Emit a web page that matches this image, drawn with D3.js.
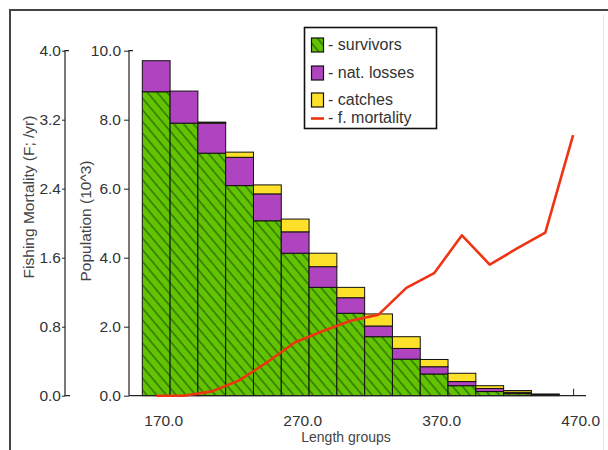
<!DOCTYPE html>
<html>
<head>
<meta charset="utf-8">
<script src="https://cdn.jsdelivr.net/npm/d3@7"></script>
<style>
  body { margin: 0; background: #fff; }
  svg { display: block; font-family: "Liberation Sans", Arial, sans-serif; }
</style>
</head>
<body>
<svg id="chart" width="608" height="450"></svg>
<script>
// length group centres (mm) and stacked population (10^3)
const lengthGroups = [170, 190, 210, 230, 250, 270, 290, 310, 330, 350, 370, 390, 410, 430, 450];
const survivors = [8.81, 7.90, 7.03, 6.09, 5.07, 4.13, 3.14, 2.39, 1.71, 1.06, 0.63, 0.29, 0.12, 0.06, 0.02];
const natLosses = [0.90, 0.93, 0.87, 0.82, 0.78, 0.62, 0.60, 0.45, 0.31, 0.31, 0.21, 0.12, 0.09, 0.04, 0.01];
const catches   = [0.00, 0.00, 0.03, 0.15, 0.26, 0.37, 0.39, 0.30, 0.35, 0.34, 0.21, 0.24, 0.08, 0.05, 0.02];

// fishing mortality F (1/yr) per length
const fLengths = [170, 190, 210, 230, 250, 270, 290, 310, 330, 350, 370, 390, 410, 430, 450, 470];
const fMortality = [0, 0, 0.05, 0.18, 0.39, 0.62, 0.75, 0.87, 0.94, 1.25, 1.42, 1.86, 1.52, 1.71, 1.89, 3.02];

const xTicks = [170, 270, 370, 470];
const popTicks = [0, 2, 4, 6, 8, 10];
const fTicks = [0, 0.8, 1.6, 2.4, 3.2, 4.0];

const svg = d3.select('#chart');
const textCol = '#333';

// page frame
svg.append('path').attr('d', 'M10,450V10H608').attr('fill', 'none').attr('stroke', '#444').attr('stroke-width', 2);
svg.append('line').attr('x1', 603.5).attr('x2', 603.5).attr('y1', 14).attr('y2', 450)
  .attr('stroke', '#e6e6e6').attr('stroke-width', 1);

const x = d3.scaleLinear().domain([160, 480]).range([142.3, 587]);
const yPop = d3.scaleLinear().domain([0, 10]).range([395.7, 50.7]);
const yF = d3.scaleLinear().domain([0, 4]).range([395.7, 50.7]);
const barW = x(180) - x(160);

// hatch for survivors
const defs = svg.append('defs');
const pat = defs.append('pattern')
  .attr('id', 'hatch')
  .attr('patternUnits', 'userSpaceOnUse')
  .attr('width', 7.5).attr('height', 10)
  .attr('patternTransform', 'rotate(-40)');
pat.append('rect').attr('width', 7.5).attr('height', 10).attr('fill', '#62c400');
pat.append('line').attr('x1', 1).attr('x2', 1).attr('y1', 0).attr('y2', 10)
  .attr('stroke', '#1d4a08').attr('stroke-width', 1);

const colors = { survivors: 'url(#hatch)', natLosses: '#b044c0', catches: '#fde02a' };

// x axis ticks (drawn first so bars cover them)
const xAxis = svg.append('g')
  .attr('transform', `translate(0,${yPop(0)})`)
  .call(d3.axisBottom(x).tickValues(xTicks).tickFormat(d3.format('.1f')).tickSizeInner(-7).tickSizeOuter(0));
xAxis.select('.domain').remove();
xAxis.selectAll('.tick line').attr('stroke', '#222');
xAxis.selectAll('.tick text')
  .attr('y', 19).attr('dx', 7)
  .attr('font-size', 15.5).attr('fill', textCol)
  .attr('font-family', '"Liberation Sans", Arial, sans-serif');

// stacked bars
const rows = lengthGroups.map((g, i) => ({ g, survivors: survivors[i], natLosses: natLosses[i], catches: catches[i] }));
const stack = d3.stack().keys(['survivors', 'natLosses', 'catches'])(rows);

svg.append('g').selectAll('g')
  .data(stack)
  .join('g')
  .attr('fill', d => colors[d.key])
  .selectAll('rect')
  .data(d => d)
  .join('rect')
  .attr('x', d => x(d.data.g) - barW / 2)
  .attr('width', barW)
  .attr('y', d => yPop(d[1]))
  .attr('height', d => yPop(d[0]) - yPop(d[1]))
  .attr('stroke', '#111')
  .attr('stroke-width', 1);

// x axis line
svg.append('line')
  .attr('x1', 129).attr('x2', x(480) - 1)
  .attr('y1', yPop(0)).attr('y2', yPop(0))
  .attr('stroke', '#222').attr('stroke-width', 1.2);

// population axis
const popAxis = svg.append('g')
  .attr('transform', 'translate(129,0)')
  .call(d3.axisLeft(yPop).tickValues(popTicks).tickFormat(d3.format('.1f')).tickSizeInner(5).tickSizeOuter(0));
popAxis.select('.domain').remove();
popAxis.selectAll('.tick line').attr('stroke', '#222');
popAxis.selectAll('.tick text').attr('x', -8).attr('font-size', 15.5).attr('fill', textCol)
  .attr('font-family', '"Liberation Sans", Arial, sans-serif');
svg.append('path')
  .attr('d', `M133,${yPop(10)}H129V${yPop(0)}`)
  .attr('fill', 'none').attr('stroke', '#222').attr('stroke-width', 1.2);

// fishing mortality axis
const fAxis = svg.append('g')
  .attr('transform', 'translate(65,0)')
  .call(d3.axisLeft(yF).tickValues(fTicks).tickFormat(d3.format('.1f')).tickSizeInner(3).tickSizeOuter(0));
fAxis.select('.domain').remove();
fAxis.selectAll('.tick line').attr('stroke', '#222');
fAxis.selectAll('.tick text').attr('x', -4).attr('font-size', 15.5).attr('fill', textCol)
  .attr('font-family', '"Liberation Sans", Arial, sans-serif');
svg.append('path')
  .attr('d', `M69,${yF(4)}H65V${yF(0)}H70`)
  .attr('fill', 'none').attr('stroke', '#222').attr('stroke-width', 1.2);

// axis titles
svg.append('text')
  .attr('transform', 'translate(34,197) rotate(-90)')
  .attr('text-anchor', 'middle').attr('font-size', 15.5).attr('fill', '#444')
  .text('Fishing Mortality (F; /yr)');
svg.append('text')
  .attr('transform', 'translate(91,221) rotate(-90)')
  .attr('text-anchor', 'middle').attr('font-size', 15.5).attr('fill', '#444')
  .text('Population (10^3)');
svg.append('text')
  .attr('x', 346).attr('y', 442)
  .attr('text-anchor', 'middle').attr('font-size', 14).attr('fill', '#444')
  .text('Length groups');

// fishing mortality line
const line = d3.line().x((d, i) => x(fLengths[i])).y(d => yF(d));
svg.append('path')
  .datum(fMortality)
  .attr('d', line)
  .attr('fill', 'none')
  .attr('stroke', '#ee3412')
  .attr('stroke-width', 2.6)
  .attr('stroke-linejoin', 'round');

// legend
const legend = svg.append('g');
legend.append('rect')
  .attr('x', 304.5).attr('y', 27.5).attr('width', 132).attr('height', 101)
  .attr('fill', '#fff').attr('stroke', '#111').attr('stroke-width', 1.6);
const legendItems = [
  { label: '- survivors', fill: colors.survivors, y: 38 },
  { label: '- nat. losses', fill: colors.natLosses, y: 66 },
  { label: '- catches', fill: colors.catches, y: 93 }
];
legendItems.forEach(d => {
  legend.append('rect')
    .attr('x', 311.5).attr('y', d.y).attr('width', 12).attr('height', 14)
    .attr('fill', d.fill).attr('stroke', '#111').attr('stroke-width', 1.2);
  legend.append('text')
    .attr('x', 328).attr('y', d.y + 12)
    .attr('font-size', 16).attr('fill', textCol)
    .text(d.label);
});
legend.append('line')
  .attr('x1', 311).attr('x2', 324).attr('y1', 118.5).attr('y2', 118.5)
  .attr('stroke', '#ee3412').attr('stroke-width', 2.6);
legend.append('text')
  .attr('x', 328).attr('y', 123)
  .attr('font-size', 16).attr('fill', textCol)
  .text('- f. mortality');
</script>
</body>
</html>
